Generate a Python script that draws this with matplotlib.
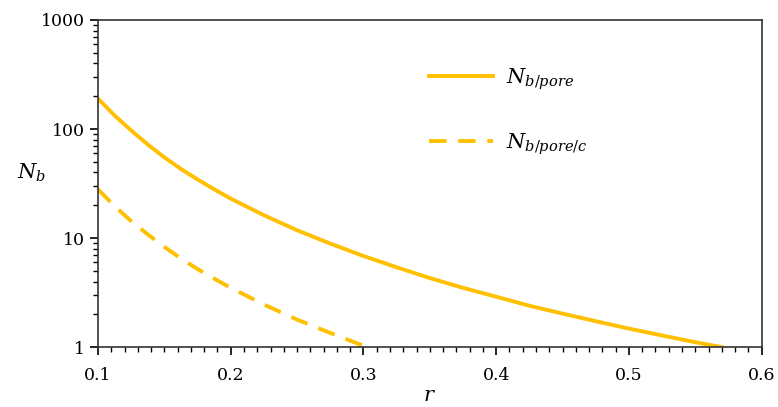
import matplotlib
matplotlib.use('Agg')
import matplotlib.pyplot as plt
from matplotlib.ticker import FixedLocator, NullFormatter, LogLocator

# Значения
r_pore = [0.10, 0.1125, 0.125, 0.1375, 0.15, 0.1625, 0.175, 0.1875, 0.20, 0.225, 0.25,
          0.275, 0.30, 0.325, 0.35, 0.375, 0.40, 0.425, 0.45, 0.475, 0.50, 0.525, 0.55, 0.57]
nb_pore = [190, 133, 97, 72, 55, 43, 34.5, 28, 23, 16.2, 11.8,
           8.9, 6.85, 5.4, 4.3, 3.5, 2.9, 2.4, 2.03, 1.73, 1.48, 1.28, 1.11, 1.0]

r_pore_c = [0.10, 0.1125, 0.125, 0.1375, 0.15, 0.1625, 0.175, 0.1875, 0.20, 0.225, 0.25, 0.275, 0.30]
nb_pore_c = [28, 19.6, 14.3, 10.8, 8.3, 6.5, 5.2, 4.25, 3.5, 2.46, 1.79, 1.35, 1.03]

x_ticks = [0.1, 0.2, 0.3, 0.4, 0.5, 0.6]
y_ticks = [1, 10, 100, 1000]
y_tick_labels = ['1', '10', '100', '1000']

color = '#FFC000'

plt.rcParams['font.family'] = ['DejaVu Serif']
plt.rcParams['mathtext.fontset'] = 'dejavuserif'

fig = plt.figure(figsize=(7.78, 4.07), dpi=100)
ax = fig.add_axes([0.126, 0.147, 0.853, 0.804])

ax.plot(r_pore, nb_pore, color=color, lw=2.8, label=r'$N_{b/pore}$')
ax.plot(r_pore_c, nb_pore_c, color=color, lw=2.8, dashes=(4.5, 3), label=r'$N_{b/pore/c}$')

ax.set_yscale('log')
ax.set_xlim(0.1, 0.6)
ax.set_ylim(1, 1000)

ax.set_xticks(x_ticks)
ax.set_xticklabels([f'{v:.1f}' for v in x_ticks])
ax.xaxis.set_minor_locator(FixedLocator([0.1 + 0.01 * i for i in range(51)]))
ax.set_yticks(y_ticks)
ax.set_yticklabels(y_tick_labels)
ax.yaxis.set_minor_locator(LogLocator(base=10, subs=range(2, 10)))
ax.yaxis.set_minor_formatter(NullFormatter())

ax.tick_params(which='major', direction='out', length=6, width=1.2, labelsize=12.5, colors='black')
ax.tick_params(which='minor', direction='out', length=3.5, width=1.0)
ax.tick_params(axis='x', pad=8)

for s in ax.spines.values():
    s.set_linewidth(1.2)
    s.set_color('#333333')

ax.set_xlabel(r'$r$', fontsize=15, labelpad=2)
ax.set_ylabel(r'$N_b$', fontsize=15, rotation=0, labelpad=18)
ax.yaxis.set_label_coords(-0.1, 0.5)

ax.legend(loc='upper left', bbox_to_anchor=(0.47, 0.915), frameon=False,
          fontsize=15, handlelength=3.1, labelspacing=1.9, handletextpad=0.6)

fig.savefig('out.png', dpi=100)
